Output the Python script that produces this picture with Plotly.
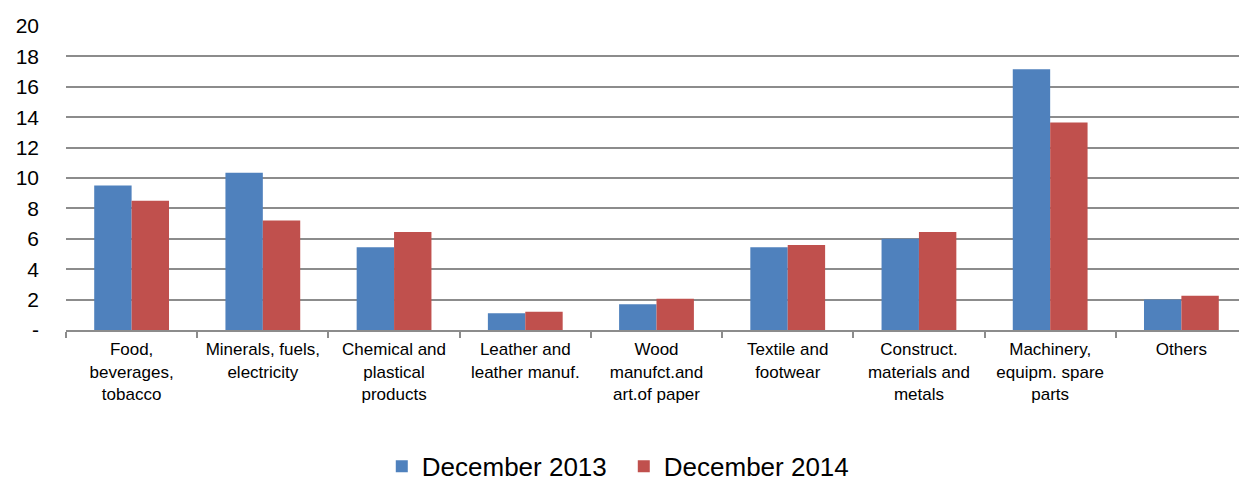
import plotly.graph_objects as go

categories = [
    "Food,<br>beverages,<br>tobacco",
    "Minerals, fuels,<br>electricity",
    "Chemical and<br>plastical<br>products",
    "Leather and<br>leather manuf.",
    "Wood<br>manufct.and<br>art.of paper",
    "Textile and<br>footwear",
    "Construct.<br>materials and<br>metals",
    "Machinery,<br>equipm. spare<br>parts",
    "Others",
]
dec_2013 = [9.5, 10.35, 5.45, 1.1, 1.7, 5.45, 6.0, 17.15, 2.0]
dec_2014 = [8.5, 7.2, 6.45, 1.2, 2.05, 5.6, 6.45, 13.65, 2.25]
y_tickvals = [0, 2, 4, 6, 8, 10, 12, 14, 16, 18, 20]
y_ticktext = ["-", "2", "4", "6", "8", "10", "12", "14", "16", "18", "20"]

FONT = "Liberation Sans, Arial, sans-serif"

fig = go.Figure()
fig.add_trace(go.Bar(x=categories, y=dec_2013, name="December 2013",
                     marker=dict(color="#4F81BD", line=dict(width=0))))
fig.add_trace(go.Bar(x=categories, y=dec_2014, name="December 2014",
                     marker=dict(color="#C0504D", line=dict(width=0))))

fig.update_layout(
    width=1239, height=477,
    margin=dict(l=58, r=0, t=18, b=155),
    paper_bgcolor="white", plot_bgcolor="white",
    barmode="group", bargap=0.43, bargroupgap=0,
    font=dict(family=FONT, color="#000000"),
    showlegend=True,
    legend=dict(orientation="h", xref="container", yref="container",
                x=0.497, xanchor="center", y=0.039, yanchor="middle",
                font=dict(size=26, family=FONT), itemwidth=30,
                entrywidth=197, entrywidthmode="pixels",
                tracegroupgap=0),
)
fig.update_xaxes(
    type="category", tickson="boundaries", ticks="outside", ticklen=6,
    tickcolor="#8c8c8c", tickwidth=1.5,
    showline=True, linecolor="#8c8c8c", linewidth=2,
    showgrid=False, tickfont=dict(size=17, family=FONT), tickangle=0,
    ticklabelstandoff=3, automargin=False,
)
fig.update_yaxes(
    range=[0, 20], tickvals=y_tickvals, ticktext=y_ticktext,
    showgrid=True, gridcolor="#8c8c8c", gridwidth=2,
    zeroline=False, showline=False, ticks="",
    tickfont=dict(size=21, family=FONT), ticklabelstandoff=26,
    automargin=False,
)

fig.write_html("out.html")
